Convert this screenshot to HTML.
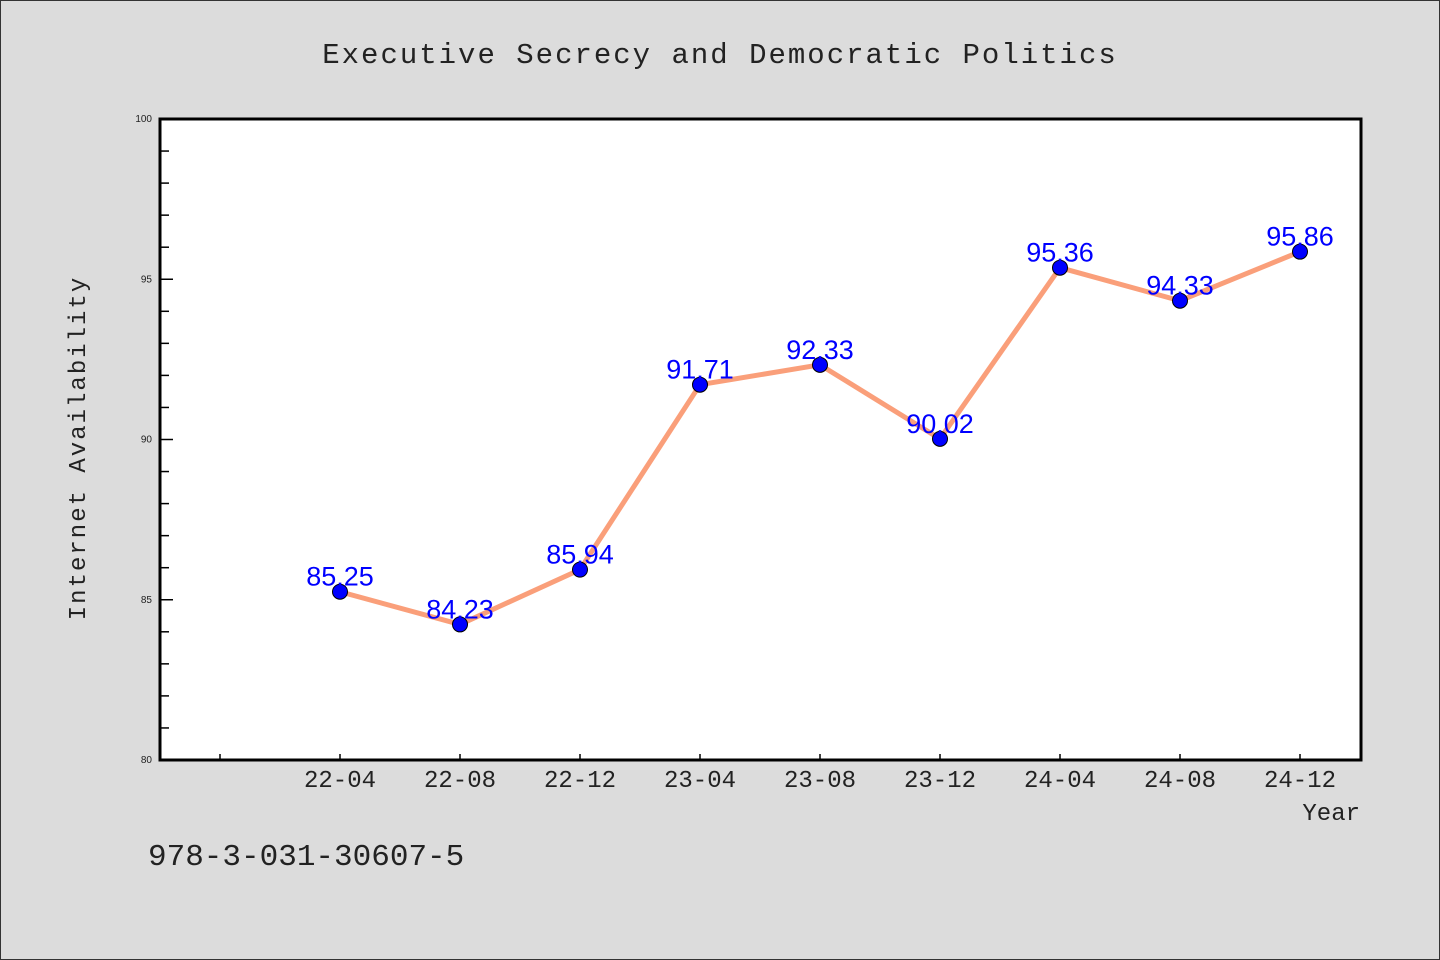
<!DOCTYPE html>
<html><head><meta charset="utf-8"><style>
html,body{margin:0;padding:0;background:#dcdcdc;}
svg{display:block;font-family:"Liberation Sans","WenQuanYi Zen Hei",sans-serif;}
</style></head><body>
<svg id="chart" width="1440" height="960" viewBox="0 0 1440 960" xmlns="http://www.w3.org/2000/svg">
<rect x="0.5" y="0.5" width="1439" height="959" fill="#dcdcdc" stroke="#333"/>
<text x="720" y="63" text-anchor="middle" font-size="29" fill="#222" letter-spacing="2" font-family="Liberation Mono, monospace">Executive Secrecy and Democratic Politics</text>
<rect x="160" y="119" width="1201" height="641" fill="#fff"/>
<g id="yaxis"></g>
<g id="xaxis"></g>
<g id="series"></g>
<rect x="160" y="119" width="1201" height="641" fill="none" stroke="#000" stroke-width="3"/>
<text transform="translate(85,448) rotate(-90)" text-anchor="middle" font-size="24" fill="#222" letter-spacing="2" font-family="Liberation Mono, monospace">Internet Availability</text>
<text x="1360" y="820" text-anchor="end" font-size="24" fill="#222" font-family="Liberation Mono, monospace">Year</text>
<text x="148" y="865" font-size="31" fill="#222" font-family="Liberation Mono, monospace">978-3-031-30607-5</text>
</svg>
<script>
const categories = ["22-04","22-08","22-12","23-04","23-08","23-12","24-04","24-08","24-12"];
const values = [85.25,84.23,85.94,91.71,92.33,90.02,95.36,94.33,95.86];
const yTicks = [80,85,90,95,100];
const NS = "http://www.w3.org/2000/svg";
const L=160,R=1361,T=119,B=760;
function yScale(v){return B-(v-80)/20*(B-T);}
function xScale(i){return 340+i*120;}
function mk(tag,attrs,parent){const e=document.createElementNS(NS,tag);for(const k in attrs)e.setAttribute(k,attrs[k]);parent.appendChild(e);return e;}
const ya=document.getElementById('yaxis'),xa=document.getElementById('xaxis'),sg=document.getElementById('series');
for(let v=80;v<=100;v++){
  const y=yScale(v);const major=yTicks.includes(v);
  const t=mk('line',{x1:L,x2:L+(major?13:9),y1:y,y2:y,stroke:'#000','stroke-width':1.5},ya);
  
  
}
yTicks.forEach(v=>{
  const t=mk('text',{x:152,y:yScale(v)+3,'text-anchor':'end','font-size':10,fill:'#222'},ya);
  t.textContent=v;
  
  
});
for(let i=-1;i<categories.length;i++){
  const x=xScale(i);
  const t=mk('line',{x1:x,x2:x,y1:B,y2:B-6,stroke:'#000','stroke-width':1.5},xa);
  
  
}
categories.forEach((c,i)=>{
  const t=mk('text',{x:xScale(i),y:787,'text-anchor':'middle','font-size':24,fill:'#222','font-family':'Liberation Mono, monospace'},xa);
  t.textContent=c;
  
  
});
const pts=values.map((v,i)=>xScale(i)+','+yScale(v)).join(' ');
const line=mk('polyline',{points:pts,fill:'none',stroke:'#fa9f7a','stroke-width':5,'stroke-linejoin':'round'},sg);


values.forEach((v,i)=>{
  const c=mk('circle',{cx:xScale(i),cy:yScale(v),r:7.5,fill:'#0000ff',stroke:'#000','stroke-width':1},sg);
  
  
});
values.forEach((v,i)=>{
  const t=mk('text',{x:xScale(i),y:yScale(v)-6,'text-anchor':'middle','font-size':27,fill:'#0000ff'},sg);
  t.textContent=v.toFixed(2).replace('.',',');
  
  
});
</script>
</body></html>
